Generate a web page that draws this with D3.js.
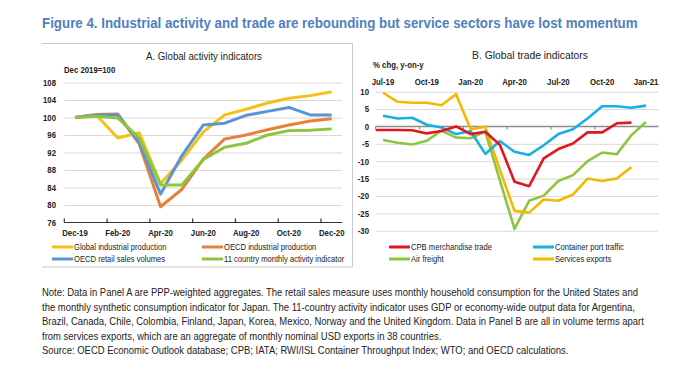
<!DOCTYPE html>
<html>
<head>
<meta charset="utf-8">
<script src="https://cdn.jsdelivr.net/npm/d3@7"></script>
<style>
  body { margin: 0; background: #fff; }
  svg { display: block; }
  text { font-family: "Liberation Sans Narrow", "Arial Narrow", "Liberation Sans", Arial, sans-serif; fill: #222; }
</style>
</head>
<body>
<svg id="chart" width="689" height="375"></svg>
<script>
// ---- panel A data (Dec 2019 = 100)
var monthsA = ["Dec-19","Jan-20","Feb-20","Mar-20","Apr-20","May-20","Jun-20","Jul-20","Aug-20","Sep-20","Oct-20","Nov-20","Dec-20"];
var globalIP   = [100, 100.5, 95.3, 96.5, 84.9, 90.3, 96.7, 100.6, 101.9, 103.3, 104.4, 105.0, 105.9];
var oecdIP     = [100, 100.7, 100.8, 94.0, 79.6, 83.6, 90.5, 95.1, 96.0, 97.2, 98.3, 99.2, 99.7];
var retailSales= [100, 100.6, 100.6, 94.3, 82.5, 91.3, 98.3, 98.7, 100.5, 101.4, 102.3, 100.6, 100.6];
var activity11 = [100, 100.3, 99.9, 95.3, 84.6, 84.6, 90.4, 93.2, 94.1, 96.0, 97.0, 97.1, 97.4];
var ticksA = [76, 80, 84, 88, 92, 96, 100, 104, 108];

// ---- panel B data (% chg, y-on-y)
var monthsB = ["Jun-19","Jul-19","Aug-19","Sep-19","Oct-19","Nov-19","Dec-19","Jan-20","Feb-20","Mar-20","Apr-20","May-20","Jun-20","Jul-20","Aug-20","Sep-20","Oct-20","Nov-20","Dec-20","Jan-21"];
var cpbTrade  = [-1.0, -1.0, -1.0, -1.1, -2.0, -1.3, 0.0, -2.2, -1.5, -5.3, -15.9, -17.2, -9.2, -6.5, -4.9, -1.7, -1.7, 0.9, 1.1, null];
var portTraffic = [null, 3.1, 2.3, 2.5, 0.5, -0.3, -2.2, -1.4, -7.9, -4.2, -7.3, -8.2, -5.4, -2.2, -0.8, 2.3, 5.8, 5.8, 5.4, 6.0];
var airFreight  = [null, -3.9, -4.7, -5.2, -4.1, -1.2, -3.2, -3.4, -1.5, -15.5, -29.5, -21.4, -19.9, -15.7, -14.0, -10.0, -7.5, -8.0, -2.5, 1.3];
var servExports = [null, 9.7, 7.1, 6.8, 6.8, 6.1, 9.3, -0.8, -0.1, -12.5, -24.3, -24.8, -21.0, -21.4, -19.6, -15.0, -15.7, -15.0, -11.7, null];
var ticksB = [10, 5, 0, -5, -10, -15, -20, -25, -30];
var labelsB = ["Jul-19","Oct-19","Jan-20","Apr-20","Jul-20","Oct-20","Jan-21"];

var noteLines = [
  "Note:  Data in Panel A are PPP-weighted aggregates. The retail sales measure uses monthly household consumption for the United States and",
  "the monthly synthetic consumption indicator for Japan. The 11-country activity indicator uses GDP or economy-wide output data for Argentina,",
  "Brazil, Canada, Chile, Colombia, Finland, Japan, Korea, Mexico, Norway and the United Kingdom. Data in Panel B are all in volume terms apart",
  "from services exports, which are an aggregate of monthly nominal USD exports in 38 countries.",
  "Source: OECD Economic Outlook database; CPB; IATA; RWI/ISL Container Throughput Index; WTO; and OECD calculations."
];

var svg = d3.select("#chart");

// title
svg.append("text")
    .attr("x", 42).attr("y", 28).attr("data-w", 596)
    .style("font-size", "15px").style("font-weight", "bold").style("fill", "#4f81bd")
    .text("Figure 4. Industrial activity and trade are rebounding but service sectors have lost momentum");

// panel A frame (top, right, bottom)
svg.append("path")
    .attr("d", "M42,43.5H352.5V267H42")
    .attr("fill", "none").attr("stroke", "#c8c8c8").attr("stroke-width", 1);

// ================= Panel A =================
var xA = d3.scaleLinear().domain([0, 12]).range([75, 331.7]);
var yA = d3.scaleLinear().domain([76, 108]).range([222.5, 82.5]);
var gA = svg.append("g");

gA.append("text").attr("x", 204).attr("y", 60).attr("text-anchor", "middle").attr("data-w", 116)
    .style("font-size", "11px").text("A. Global activity indicators");
gA.append("text").attr("x", 64).attr("y", 73)
    .style("font-size", "9.5px").style("font-weight", "bold").text("Dec 2019=100");

// gridlines
gA.append("g")
    .attr("transform", "translate(" + xA(-0.5) + ",0)")
    .call(d3.axisLeft(yA).tickValues(ticksA.slice(1)).tickSize(-(xA(12.5) - xA(-0.5))).tickFormat(""))
    .call(function(g) { g.select(".domain").remove(); })
    .selectAll("line").attr("stroke", "#d9d9d9");

// y labels
gA.selectAll(".ylabA").data(ticksA).enter().append("text")
    .attr("x", 56).attr("y", function(d) { return yA(d) + 3.4; })
    .attr("text-anchor", "end")
    .style("font-size", "9.5px").style("font-weight", "bold")
    .text(function(d) { return d; });

// x axis line + ticks at every second category boundary
gA.append("line").attr("x1", xA(-0.5)).attr("x2", xA(12.5))
    .attr("y1", yA(76)).attr("y2", yA(76)).attr("stroke", "#333").attr("stroke-width", 1.2);
gA.selectAll(".tickA").data(d3.range(-0.5, 13, 2)).enter().append("line")
    .attr("x1", function(d) { return xA(d); }).attr("x2", function(d) { return xA(d); })
    .attr("y1", yA(76) - 4).attr("y2", yA(76)).attr("stroke", "#333").attr("stroke-width", 1.2);
gA.selectAll(".xlabA").data(monthsA.filter(function(d, i) { return i % 2 === 0; })).enter().append("text")
    .attr("x", function(d) { return xA(monthsA.indexOf(d)); }).attr("y", 235.5)
    .attr("text-anchor", "middle")
    .style("font-size", "9.5px").style("font-weight", "bold")
    .text(function(d) { return d; });

var lineA = d3.line()
    .x(function(d, i) { return xA(i); })
    .y(function(d) { return yA(d); });

var seriesA = [
  {name: "OECD industrial production", values: oecdIP, color: "#e8803a"},
  {name: "Global industrial production", values: globalIP, color: "#f5c01a"},
  {name: "OECD retail sales volumes", values: retailSales, color: "#5b93d3"},
  {name: "11 country monthly activity indicator", values: activity11, color: "#8cc63f"}
];
seriesA.forEach(function(s) {
  gA.append("path").datum(s.values)
      .attr("fill", "none").attr("stroke", s.color).attr("stroke-width", 3)
      .attr("stroke-linejoin", "round")
      .attr("d", lineA);
});

var legendA = [
  {name: "Global industrial production", color: "#f5c01a", x: 52, y: 247},
  {name: "OECD industrial production", color: "#e8803a", x: 202, y: 247},
  {name: "OECD retail sales volumes", color: "#5b93d3", x: 52, y: 259},
  {name: "11 country monthly activity indicator", color: "#8cc63f", x: 202, y: 259}
];

// ================= Panel B =================
var xB = d3.scaleLinear().domain([-1, 18]).range([368.4, 646]);
var yB = d3.scaleLinear().domain([-30, 10]).range([230.7, 91.7]);
var gB = svg.append("g");
var leftB = xB(-0.5), rightB = xB(18.85);

gB.append("text").attr("x", 530).attr("y", 59).attr("text-anchor", "middle").attr("data-w", 116)
    .style("font-size", "11px").text("B. Global  trade indicators");
gB.append("text").attr("x", 373).attr("y", 68)
    .style("font-size", "9.5px").style("font-weight", "bold").text("% chg, y-on-y");

gB.append("g")
    .attr("transform", "translate(" + leftB + ",0)")
    .call(d3.axisLeft(yB).tickValues(ticksB.filter(function(d) { return d !== 0; })).tickSize(-(rightB - leftB)).tickFormat(""))
    .call(function(g) { g.select(".domain").remove(); })
    .selectAll("line").attr("stroke", "#d9d9d9");

gB.selectAll(".ylabB").data(ticksB).enter().append("text")
    .attr("x", 369).attr("y", function(d) { return yB(d) + 3.4; })
    .attr("text-anchor", "end")
    .style("font-size", "9.5px").style("font-weight", "bold")
    .text(function(d) { return d; });

gB.selectAll(".xlabB").data(labelsB).enter().append("text")
    .attr("x", function(d) { return xB(monthsB.indexOf(d) - 1); }).attr("y", 84.5)
    .attr("text-anchor", "middle")
    .style("font-size", "9.5px").style("font-weight", "bold")
    .text(function(d) { return d; });

// zero line with quarterly ticks
gB.append("line").attr("x1", leftB).attr("x2", rightB)
    .attr("y1", yB(0)).attr("y2", yB(0)).attr("stroke", "#8c8c8c").attr("stroke-width", 1.6);
gB.selectAll(".tickB").data(d3.range(-0.5, 18, 3)).enter().append("line")
    .attr("x1", function(d) { return xB(d); }).attr("x2", function(d) { return xB(d); })
    .attr("y1", yB(0)).attr("y2", yB(0) + 3).attr("stroke", "#8c8c8c").attr("stroke-width", 1.2);

svg.append("clipPath").attr("id", "clipB").append("rect")
    .attr("x", leftB).attr("y", 80).attr("width", rightB - leftB).attr("height", 160);

var lineB = d3.line()
    .defined(function(d) { return d !== null; })
    .x(function(d, i) { return xB(i - 1); })
    .y(function(d) { return yB(d); });

var seriesB = [
  {name: "Air freight", values: airFreight, color: "#8cc63f"},
  {name: "Services exports", values: servExports, color: "#f5b800"},
  {name: "Container port traffic", values: portTraffic, color: "#1aaee6"},
  {name: "CPB merchandise trade", values: cpbTrade, color: "#e3161c"}
];
seriesB.forEach(function(s) {
  gB.append("path").datum(s.values)
      .attr("clip-path", "url(#clipB)")
      .attr("fill", "none").attr("stroke", s.color).attr("stroke-width", 2.6)
      .attr("stroke-linejoin", "round")
      .attr("d", lineB);
});

var legendB = [
  {name: "CPB merchandise trade", color: "#e3161c", x: 389, y: 247},
  {name: "Container port traffic", color: "#1aaee6", x: 533, y: 247},
  {name: "Air freight", color: "#8cc63f", x: 389, y: 259},
  {name: "Services exports", color: "#f5b800", x: 533, y: 259}
];

// legends
legendA.concat(legendB).forEach(function(l) {
  svg.append("line").attr("x1", l.x).attr("x2", l.x + 21).attr("y1", l.y).attr("y2", l.y)
      .attr("stroke", l.color).attr("stroke-width", 3);
  svg.append("text").attr("x", l.x + 22).attr("y", l.y + 3.3)
      .style("font-size", "9.3px").text(l.name);
});

// note
svg.selectAll(".note").data(noteLines).enter().append("text")
    .attr("x", 42).attr("y", function(d, i) { return 296 + i * 14.5; })
    .attr("data-f", 0.862)
    .style("font-size", "11px")
    .text(function(d) { return d; });

// no narrow font installed: squeeze the regular face horizontally (Arial Narrow look)
svg.selectAll("text").each(function() {
  var t = d3.select(this);
  var w = this.getComputedTextLength();
  var f = t.attr("data-w") ? +t.attr("data-w") / w : (t.attr("data-f") ? +t.attr("data-f") : 0.82);
  var x = +t.attr("x"), y = +t.attr("y");
  t.attr("x", 0).attr("y", 0)
   .attr("transform", "translate(" + x + "," + y + ") scale(" + f.toFixed(3) + ",1)");
});
</script>
</body>
</html>
